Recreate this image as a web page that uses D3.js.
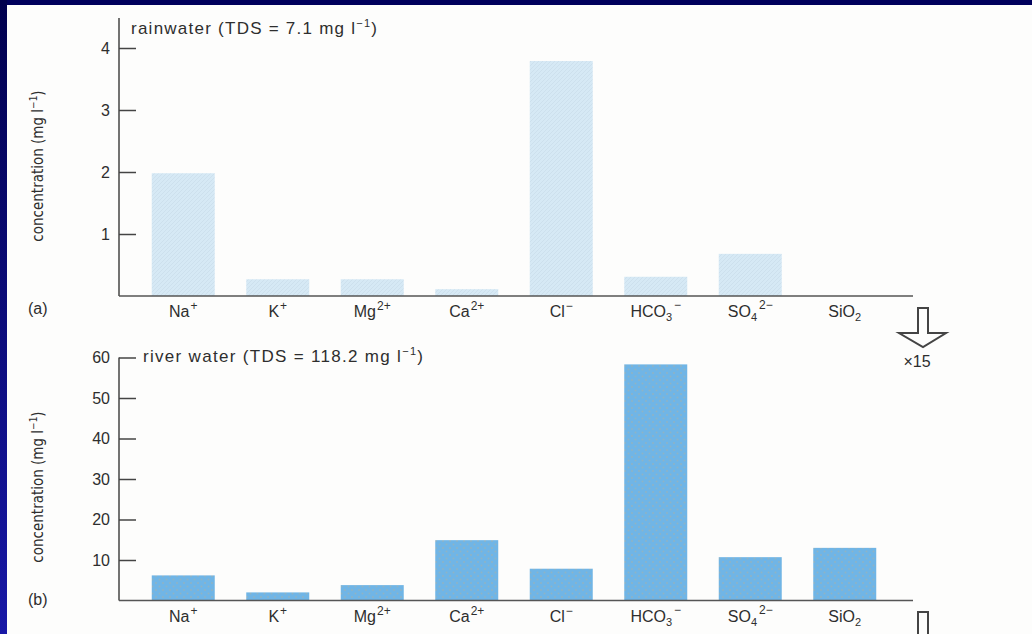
<script src="https://d3js.org/d3.v7.min.js"></script>

<style>
  body { margin: 0; background: #ffffff; }
  text { font-family: "Liberation Sans", Arial, Helvetica, sans-serif; fill: #2e2e2e; }
  .ytitle { font-family: "Liberation Sans Narrow", "DejaVu Sans Condensed", "Liberation Sans", Arial, sans-serif; }
</style>

<body>
  <div id="vis"></div>
</body>

<script>
  // Ions along the x axis (base text, subscript, superscript)
  const ions = ['Na+', 'K+', 'Mg2+', 'Ca2+', 'Cl-', 'HCO3-', 'SO42-', 'SiO2']
  const ionBase = ['Na', 'K', 'Mg', 'Ca', 'Cl', 'HCO', 'SO', 'SiO']
  const ionSub = ['', '', '', '', '', '3', '4', '2']
  const ionSup = ['+', '+', '2+', '2+', '\u2212', '\u2212', '2\u2212', '']

  // concentrations in mg/l
  const rainwater = [1.98, 0.27, 0.27, 0.11, 3.79, 0.31, 0.68, 0]
  const riverwater = [6.2, 2.0, 3.8, 14.9, 7.85, 58.3, 10.7, 13.0]

  const rainTicks = [1, 2, 3, 4]
  const riverTicks = [10, 20, 30, 40, 50, 60]

  const W = 1032, H = 634
  const axisX = 119

  let svg = d3.select('#vis').append('svg')
    .attr('width', W)
    .attr('height', H)

  // background + navy slide border
  let defs = svg.append('defs')
  let grad = defs.append('linearGradient').attr('id', 'leftEdge')
    .attr('x1', 0).attr('y1', 0).attr('x2', 0).attr('y2', 1)
  grad.append('stop').attr('offset', '0%').attr('stop-color', '#00004e')
  grad.append('stop').attr('offset', '100%').attr('stop-color', '#1818a6')

  // bar textures
  let hatch = defs.append('pattern').attr('id', 'hatch')
    .attr('width', 4).attr('height', 4).attr('patternUnits', 'userSpaceOnUse')
  hatch.append('rect').attr('width', 4).attr('height', 4).attr('fill', '#d6e9f5')
  hatch.append('path').attr('d', 'M0,4L4,0').attr('stroke', '#c8dde9').attr('stroke-width', 0.7)

  let dots = defs.append('pattern').attr('id', 'dots')
    .attr('width', 7).attr('height', 7).attr('patternUnits', 'userSpaceOnUse')
  dots.append('rect').attr('width', 7).attr('height', 7).attr('fill', '#70b5e6')
  dots.append('circle').attr('cx', 2).attr('cy', 2).attr('r', 1).attr('fill', '#8fb3c4')
  dots.append('circle').attr('cx', 5.5).attr('cy', 5.5).attr('r', 1).attr('fill', '#8fb3c4')

  svg.append('rect').attr('width', W).attr('height', H).attr('fill', '#fdfdfc')
  svg.append('rect').attr('width', W).attr('height', 5).attr('fill', '#00005c')
  svg.append('rect').attr('width', 7).attr('height', H).attr('fill', 'url(#leftEdge)')

  // shared x scale
  let x = d3.scaleBand()
    .domain(ions)
    .range([136, 892])
    .paddingInner(1 / 3)
    .paddingOuter(1 / 6)

  function drawPanel(values, ticks, yMax, y0, y1, axisTop, fill, panelLabel, labelY, titleMid, title, titleX, titleY, titleLen) {
    let y = d3.scaleLinear().domain([0, yMax]).range([y0, y1])
    let g = svg.append('g')

    // bars
    g.selectAll('rect.bar')
      .data(values)
      .enter()
      .append('rect')
      .attr('class', 'bar')
      .attr('x', (d, i) => x(ions[i]))
      .attr('width', x.bandwidth())
      .attr('y', d => y(d))
      .attr('height', d => y(0) - y(d))
      .attr('fill', fill)

    // y axis: ticks point inwards, labels on the left
    let yAxis = g.append('g')
      .attr('transform', 'translate(' + axisX + ',0)')
      .call(d3.axisLeft(y).tickValues(ticks).tickFormat(d3.format('d')).tickSize(-17).tickPadding(9))
    yAxis.select('.domain').remove()
    yAxis.selectAll('line').attr('stroke', '#444').attr('stroke-width', 1.5)
    yAxis.selectAll('text')
      .style('font-size', '16px')
      .style('font-family', '"Liberation Sans", Arial, sans-serif')
      .attr('fill', '#2e2e2e')

    g.append('line')
      .attr('x1', axisX).attr('x2', axisX)
      .attr('y1', y(0)).attr('y2', axisTop)
      .attr('stroke', '#444').attr('stroke-width', 1.5)

    // baseline
    g.append('line')
      .attr('x1', axisX).attr('x2', 913)
      .attr('y1', y(0)).attr('y2', y(0))
      .attr('stroke', '#555').attr('stroke-width', 1.5)

    // ion labels
    let lab = g.selectAll('text.ion')
      .data(ions)
      .enter()
      .append('text')
      .attr('class', 'ion')
      .attr('x', d => x(d) + x.bandwidth() / 2)
      .attr('y', y(0) + 21)
      .attr('text-anchor', 'middle')
      .style('font-size', '16px')
    lab.append('tspan').text((d, i) => ionBase[i])
    lab.append('tspan')
      .style('font-size', '11px')
      .attr('dy', (d, i) => ionSub[i] ? 4 : 0)
      .text((d, i) => ionSub[i])
    lab.append('tspan')
      .style('font-size', '12px')
      .attr('dy', (d, i) => ionSup[i] ? (ionSub[i] ? -12 : -7) : 0)
      .attr('dx', (d, i) => ionSub[i] && ionSup[i] ? 2 : 1)
      .text((d, i) => ionSup[i])

    // y title
    let yt = g.append('text')
      .attr('class', 'ytitle')
      .attr('transform', 'translate(43,' + titleMid + ')rotate(-90)')
      .attr('text-anchor', 'middle')
      .style('font-size', '15px')
      .attr('fill', '#444')
    yt.append('tspan').text('concentration (mg l')
    yt.append('tspan').style('font-size', '10px').attr('dy', -6).text('\u22121')
    yt.append('tspan').attr('dy', 6).text(')')

    // panel letter
    g.append('text')
      .attr('x', 28).attr('y', labelY)
      .style('font-size', '16px')
      .text(panelLabel)

    // panel title
    let t = g.append('text')
      .attr('x', titleX).attr('y', titleY)
      .attr('textLength', titleLen)
      .attr('lengthAdjust', 'spacing')
      .style('font-size', '17px')
    t.append('tspan').text(title + ' mg l')
    t.append('tspan').style('font-size', '11px').attr('dy', -7).text('\u22121')
    t.append('tspan').attr('dy', 7).text(')')
  }

  drawPanel(rainwater, rainTicks, 4, 296, 48, 18, 'url(#hatch)', '(a)', 314, 166,
    'rainwater (TDS  =  7.1', 131, 34, 246)
  drawPanel(riverwater, riverTicks, 60, 600.5, 357.5, 357.5, 'url(#dots)', '(b)', 605, 487,
    'river water (TDS  =  118.2', 143, 362, 280)

  // outline arrows on the right
  function arrow(cx, top, shaftBottom, tip) {
    let p = d3.path()
    p.moveTo(cx - 5, shaftBottom)
    p.lineTo(cx - 5, top)
    p.lineTo(cx + 5, top)
    p.lineTo(cx + 5, shaftBottom)
    p.lineTo(cx + 23, shaftBottom)
    p.lineTo(cx, tip)
    p.lineTo(cx - 24, shaftBottom)
    p.closePath()
    svg.append('path')
      .attr('d', p.toString())
      .attr('fill', 'none')
      .attr('stroke', '#444')
      .attr('stroke-width', 2)
      .attr('stroke-linejoin', 'miter')
  }
  arrow(923, 308, 333, 347)
  arrow(923, 612, 637, 651)

  svg.append('text')
    .attr('x', 917).attr('y', 367)
    .attr('text-anchor', 'middle')
    .style('font-size', '16px')
    .text('\u00d715')
</script>
